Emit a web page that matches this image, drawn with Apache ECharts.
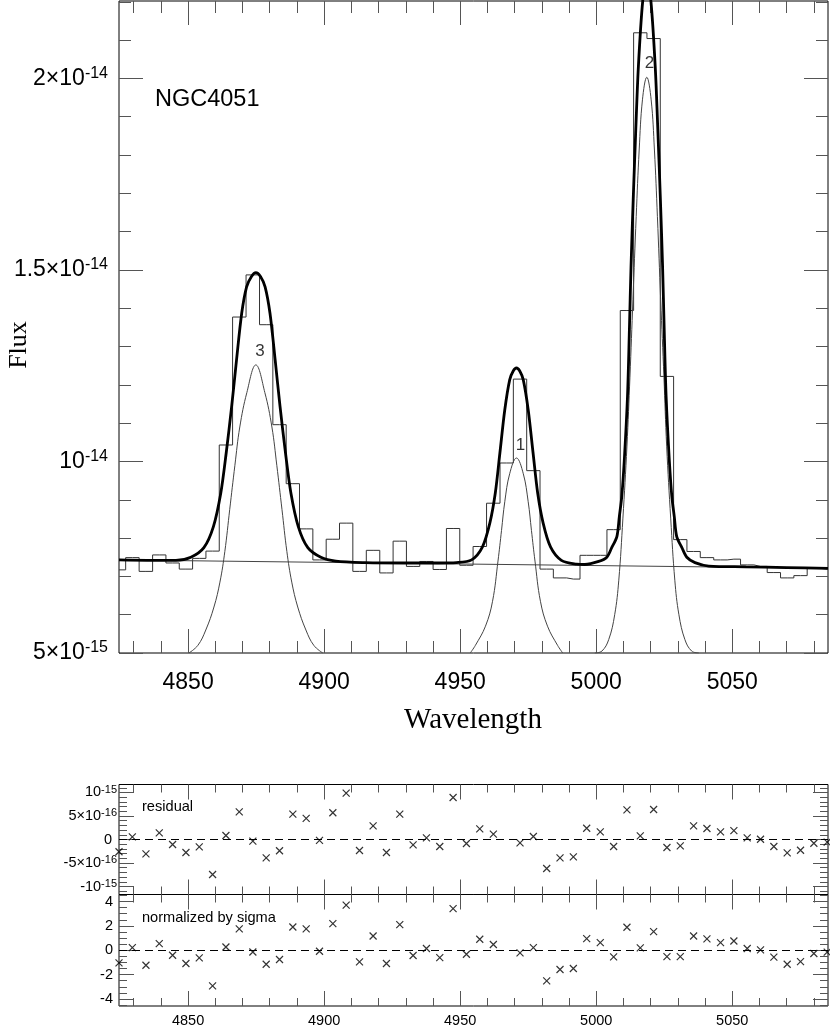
<!DOCTYPE html>
<html>
<head>
<meta charset="utf-8">
<title>NGC4051</title>
<script src="https://cdn.jsdelivr.net/npm/echarts@6/dist/echarts.min.js"></script>
<style>
  html, body { margin: 0; padding: 0; background: #fff; }
  #chart { width: 830px; height: 1029px; }
</style>
</head>
<body>
<div id="chart"></div>
<script>
// bin centres (Angstrom) of the observed spectrum
var wave = [4824.6, 4829.5, 4834.5, 4839.4, 4844.3, 4849.2, 4854.1, 4859.0, 4863.9, 4868.8,
            4873.8, 4878.7, 4883.6, 4888.5, 4893.4, 4898.3, 4903.2, 4908.1, 4913.0, 4918.0,
            4922.9, 4927.8, 4932.7, 4937.6, 4942.5, 4947.4, 4952.3, 4957.2, 4962.2, 4967.1,
            4972.0, 4976.9, 4981.8, 4986.7, 4991.6, 4996.5, 5001.5, 5006.4, 5011.3, 5016.2,
            5021.1, 5026.0, 5030.9, 5035.8, 5040.7, 5045.7, 5050.6, 5055.5, 5060.4, 5065.3,
            5070.2, 5075.1, 5080.0, 5084.9];
// observed flux, units of 1e-15
var flux = [7.17, 7.49, 7.13, 7.56, 7.35, 7.19, 7.47, 7.66, 10.43, 13.77,
            14.87, 13.57, 10.96, 9.42, 8.24, 7.43, 7.97, 8.39, 7.13, 7.68,
            7.09, 7.92, 7.26, 7.39, 7.18, 8.25, 7.29, 7.78, 8.91, 9.96,
            12.15, 9.76, 7.19, 6.96, 6.93, 7.55, 7.55, 8.22, 13.94, 21.19,
            21.04, 12.22, 7.96, 7.65, 7.49, 7.43, 7.45, 7.30, 7.26, 7.10,
            6.96, 7.02, 7.21, 7.19];
// residual, units of 1e-15 (bin 29 falls outside the panel)
var residual = [-0.26, 0.055, -0.306, 0.14, -0.106, -0.277, -0.157, -0.745, 0.085, 0.587,
                -0.036, -0.39, -0.24, 0.54, 0.45, -0.02, 0.57, 0.985, -0.234, 0.29,
                -0.277, 0.54, -0.115, 0.034, -0.149, 0.894, -0.085, 0.226, 0.113, null,
                -0.072, 0.064, -0.617, -0.39, -0.37, 0.24, 0.162, -0.149, 0.63, 0.077,
                0.638, -0.17, -0.136, 0.29, 0.234, 0.162, 0.19, 0.034, 0.006, -0.149,
                -0.285, -0.228, -0.079, -0.057];
var normSigma = [-1.04, 0.22, -1.23, 0.55, -0.41, -1.09, -0.63, -2.93, 0.27, 1.75,
                 -0.14, -1.15, -0.76, 1.91, 1.75, -0.08, 2.19, 3.71, -0.96, 1.17,
                 -1.09, 2.11, -0.43, 0.14, -0.60, 3.42, -0.33, 0.90, 0.47, null,
                 -0.22, 0.22, -2.51, -1.58, -1.50, 0.96, 0.63, -0.55, 1.89, 0.19,
                 1.53, -0.52, -0.52, 1.17, 0.93, 0.63, 0.76, 0.14, 0.03, -0.57,
                 -1.15, -0.93, -0.27, -0.16];

// total fitted model (thick curve)
var modelWave = [4824.6, 4835.0, 4845.5, 4851.0, 4855.8, 4859.3, 4862.0, 4864.0, 4866.0, 4867.8,
                 4869.7, 4871.5, 4873.3, 4874.9, 4876.6, 4878.3, 4880.1, 4882.0, 4883.8, 4885.8,
                 4887.8, 4890.5, 4894.0, 4898.8, 4904.3, 4915.0, 4930.0, 4942.0, 4948.6, 4954.2,
                 4958.2, 4960.9, 4962.9, 4964.6, 4966.4, 4968.2, 4969.5, 4970.7, 4971.9, 4973.2,
                 4975.0, 4976.8, 4978.5, 4980.5, 4983.2, 4987.2, 4992.8, 4995.8, 5000.9, 5003.9,
                 5005.7, 5007.6, 5008.5, 5009.4, 5010.3, 5011.5, 5012.2, 5012.8, 5013.6, 5014.5,
                 5015.5, 5017.1, 5018.6, 5020.1, 5021.7, 5022.7, 5023.6, 5024.4, 5025.0, 5025.7,
                 5026.9, 5027.8, 5028.7, 5029.6, 5031.5, 5033.3, 5036.3, 5041.4, 5055.0, 5070.0,
                 5085.2];
var modelFlux = [7.43, 7.42, 7.42, 7.50, 7.75, 8.30, 9.17, 10.22, 11.43, 12.65,
                 13.87, 14.56, 14.83, 14.93, 14.83, 14.56, 13.87, 12.65, 11.43, 10.22,
                 9.17, 8.30, 7.75, 7.50, 7.40, 7.36, 7.35, 7.35, 7.36, 7.43,
                 7.77, 8.39, 9.17, 10.22, 11.35, 12.13, 12.36, 12.44, 12.36, 12.13,
                 11.35, 10.22, 9.17, 8.39, 7.77, 7.42, 7.32, 7.31, 7.39, 7.50,
                 7.75, 8.04, 8.56, 9.09, 10.0, 11.69, 13.43, 15.09, 16.83, 18.57,
                 20.3, 22.02, 22.6, 22.02, 20.3, 18.57, 16.83, 15.09, 13.43, 11.69,
                 10.0, 9.09, 8.56, 8.04, 7.75, 7.50, 7.36, 7.27, 7.25, 7.23,
                 7.21];

// single components (thin curves) and continuum
var comp3Wave = [4850.3, 4853.6, 4856.5, 4859.5, 4861.7, 4863.5, 4865.3, 4867.2, 4869.0, 4871.6, 4874.9,
                 4878.2, 4880.8, 4882.6, 4884.5, 4886.3, 4888.1, 4890.3, 4893.3, 4896.2, 4899.5];
var comp3Flux = [5.0, 5.2, 5.6, 6.2, 6.85, 7.65, 8.75, 9.9, 10.9, 11.8, 12.52,
                 11.8, 10.9, 9.9, 8.75, 7.65, 6.85, 6.2, 5.6, 5.2, 5.0];
var comp1Wave = [4953.7, 4955.6, 4959.3, 4961.9, 4963.9, 4965.2, 4966.4, 4968.2, 4970.7,
                 4973.2, 4975.0, 4976.2, 4977.5, 4979.5, 4982.1, 4985.8, 4987.7];
var comp1Flux = [5.0, 5.2, 5.7, 6.35, 7.4, 8.2, 8.95, 9.68, 10.09,
                 9.68, 8.95, 8.2, 7.4, 6.35, 5.7, 5.2, 5.0];
var comp2Wave = [4999.5, 5002.1, 5004.6, 5006.8, 5008.3, 5009.8, 5011.3, 5012.4, 5013.5, 5014.7, 5015.8, 5017.0, 5018.6,
                 5020.2, 5021.4, 5022.5, 5023.7, 5024.9, 5025.9, 5027.4, 5028.9, 5030.4, 5032.6, 5035.1, 5037.7];
var comp2Flux = [5.0, 5.05, 5.35, 6.0, 6.9, 8.5, 10.4, 12.2, 14.22, 16.39, 18.13, 19.44, 20.03,
                 19.44, 18.13, 16.39, 14.22, 12.2, 10.4, 8.5, 6.9, 6.0, 5.35, 5.05, 5.0];
var contWave = [4824.6, 5085.2];
var contFlux = [7.43, 7.21];

// component tags
var tagText = ['1', '2', '3'];
var tagWave = [4972.2, 5019.6, 4876.4];
var tagFlux = [10.41, 20.39, 12.87];

// axis ticks and labels
var waveMin = 4824.6, waveMax = 5085.2;
var waveMajor = [4850, 4900, 4950, 5000, 5050];
var waveMinor = [4830, 4840, 4860, 4870, 4880, 4890, 4910, 4920, 4930, 4940, 4960,
                 4970, 4980, 4990, 5010, 5020, 5030, 5040, 5060, 5070, 5080];
var fluxMajor = [5, 10, 15, 20];
var fluxMinor = [6, 7, 8, 9, 11, 12, 13, 14, 16, 17, 18, 19, 21, 22];
var fluxTickText = [['5×10', '-15'], ['10', '-14'], ['1.5×10', '-14'], ['2×10', '-14']];
var resMajor = [-1, -0.5, 0, 0.5, 1];
var resMinor = [-1.1, -0.9, -0.8, -0.7, -0.6, -0.4, -0.3, -0.2, -0.1,
                0.1, 0.2, 0.3, 0.4, 0.6, 0.7, 0.8, 0.9, 1.1];
var resTickText = [['-10', '-15'], ['-5×10', '-16'], ['0', ''], ['5×10', '-16'], ['10', '-15']];
var normMajor = [-4, -2, 0, 2, 4];
var normMinor = [-4.5, -3.5, -3, -2.5, -1.5, -1, -0.5, 0.5, 1, 1.5, 2.5, 3, 3.5, 4.5];

var SANS = '"Liberation Sans", Arial, Helvetica, sans-serif';
var SERIF = '"Liberation Serif", "Times New Roman", serif';
var TICK = '#555';

function pairs(xs, ys) {
  var out = [];
  for (var i = 0; i < xs.length; i++) {
    if (ys[i] !== null) out.push([xs[i], ys[i]]);
  }
  return out;
}

function plain(v) { return String(v); }

function powFormatter(ticks, texts) {
  return function (v) {
    for (var i = 0; i < ticks.length; i++) {
      if (Math.abs(v - ticks[i]) < 1e-9) {
        var t = texts[i];
        return '{b|' + t[0] + '}' + (t[1] ? '{s|' + t[1] + '}' : '{p|}');
      }
    }
    return '';
  };
}

var xAxes = [], yAxes = [];

function axis(g, pos, min, max, ticks, len, label) {
  var a = {
    type: 'value', gridIndex: g, position: pos, min: min, max: max,
    axisLine: { show: false, onZero: false },
    axisTick: { show: true, inside: true, length: len, customValues: ticks,
                lineStyle: { color: TICK, width: 1 } },
    axisLabel: { show: false },
    splitLine: { show: false }
  };
  if (label) {
    a.axisLabel = Object.assign({ show: true, customValues: ticks, color: '#000', fontFamily: SANS, formatter: plain }, label);
  }
  return a;
}

// four framed sides with major+minor ticks, returns first x / y axis index
function panel(g, p) {
  var xi = xAxes.length, yi = yAxes.length;
  xAxes.push(axis(g, 'bottom', waveMin, waveMax, waveMajor, p.major, p.xLabel));
  xAxes.push(axis(g, 'bottom', waveMin, waveMax, waveMinor, p.minor, null));
  xAxes.push(axis(g, 'top', waveMin, waveMax, waveMajor, p.major, null));
  xAxes.push(axis(g, 'top', waveMin, waveMax, waveMinor, p.minor, null));
  yAxes.push(axis(g, 'left', p.yMin, p.yMax, p.yMajor, p.major, p.yLabel));
  yAxes.push(axis(g, 'left', p.yMin, p.yMax, p.yMinor, p.minor, null));
  yAxes.push(axis(g, 'right', p.yMin, p.yMax, p.yMajor, p.major, null));
  yAxes.push(axis(g, 'right', p.yMin, p.yMax, p.yMinor, p.minor, null));
  return [xi, yi];
}

var topIdx = panel(0, {
  yMin: 5, yMax: 22.02, yMajor: fluxMajor, yMinor: fluxMinor, major: 24, minor: 12,
  xLabel: { fontSize: 23, margin: 18 },
  yLabel: {
    margin: 11, formatter: powFormatter(fluxMajor, fluxTickText),
    rich: {
      b: { fontSize: 23, fontFamily: SANS, color: '#000', lineHeight: 26 },
      s: { fontSize: 16, fontFamily: SANS, color: '#000', lineHeight: 17, verticalAlign: 'top' },
      p: { width: 0 }
    }
  }
});
var resIdx = panel(1, {
  yMin: -1.17, yMax: 1.17, yMajor: resMajor, yMinor: resMinor, major: 15, minor: 8,
  xLabel: null,
  yLabel: {
    margin: 2, formatter: powFormatter(resMajor, resTickText),
    rich: {
      b: { fontSize: 14.5, fontFamily: SANS, color: '#000', lineHeight: 17 },
      s: { fontSize: 11, fontFamily: SANS, color: '#000', lineHeight: 11, verticalAlign: 'top' },
      p: { width: 5 }
    }
  }
});
var normIdx = panel(2, {
  yMin: -4.58, yMax: 4.58, yMajor: normMajor, yMinor: normMinor, major: 15, minor: 8,
  xLabel: { fontSize: 14.5, margin: 7 },
  yLabel: { fontSize: 14.5, margin: 6 }
});

var gridStyle = { show: true, borderColor: '#000', borderWidth: 1, backgroundColor: 'transparent',
                  containLabel: false, outerBoundsMode: 'none' };

var crossSymbol = 'path://M0,0L10,10M10,0L0,10';
var zeroLine = {
  silent: true, symbol: ['none', 'none'], label: { show: false },
  lineStyle: { color: '#000', width: 1, type: [8, 5] },
  data: [{ yAxis: 0 }]
};

function thin(xs, ys) {
  return {
    type: 'line', xAxisIndex: topIdx[0], yAxisIndex: topIdx[1], data: pairs(xs, ys),
    symbol: 'none', smooth: 0.4, lineStyle: { color: '#444', width: 1 }, z: 3
  };
}

function crosses(idx, ys) {
  return {
    type: 'scatter', xAxisIndex: idx[0], yAxisIndex: idx[1], data: pairs(wave, ys),
    symbol: crossSymbol, symbolSize: 7,
    itemStyle: { color: 'none', borderColor: '#000', borderWidth: 1.2 },
    markLine: zeroLine
  };
}

var option = {
  animation: false,
  backgroundColor: '#fff',
  grid: [
    Object.assign({ left: 119, top: 1, width: 709, height: 652 }, gridStyle),
    Object.assign({ left: 119, top: 784.5, width: 709, height: 110 }, gridStyle),
    Object.assign({ left: 119, top: 894.5, width: 709, height: 111.5 }, gridStyle)
  ],
  xAxis: xAxes,
  yAxis: yAxes,
  graphic: [
    { type: 'text', x: 19, y: 345, rotation: Math.PI / 2,
      style: { text: 'Flux', font: '26px ' + SERIF, fill: '#000', align: 'center', verticalAlign: 'middle' } },
    { type: 'text', x: 473, y: 720,
      style: { text: 'Wavelength', font: '29px ' + SERIF, fill: '#000', align: 'center', verticalAlign: 'middle' } },
    { type: 'text', x: 155, y: 100,
      style: { text: 'NGC4051', font: '23.5px ' + SANS, fill: '#000', align: 'left', verticalAlign: 'middle' } },
    { type: 'text', x: 142, y: 807,
      style: { text: 'residual', font: '14.6px ' + SANS, fill: '#000', align: 'left', verticalAlign: 'middle' } },
    { type: 'text', x: 142, y: 917.5,
      style: { text: 'normalized by sigma', font: '14.6px ' + SANS, fill: '#000', align: 'left', verticalAlign: 'middle' } }
  ],
  series: [
    {
      type: 'line', xAxisIndex: topIdx[0], yAxisIndex: topIdx[1], data: pairs(wave, flux),
      step: 'middle', symbol: 'none', lineStyle: { color: '#333', width: 1 }, z: 2
    },
    {
      type: 'line', xAxisIndex: topIdx[0], yAxisIndex: topIdx[1], data: pairs(contWave, contFlux),
      symbol: 'none', lineStyle: { color: '#444', width: 1 }, z: 3
    },
    thin(comp1Wave, comp1Flux),
    thin(comp2Wave, comp2Flux),
    thin(comp3Wave, comp3Flux),
    {
      type: 'line', xAxisIndex: topIdx[0], yAxisIndex: topIdx[1], data: pairs(modelWave, modelFlux),
      symbol: 'none', smooth: 0.3, lineStyle: { color: '#000', width: 2.8 }, z: 4
    },
    {
      type: 'scatter', xAxisIndex: topIdx[0], yAxisIndex: topIdx[1], symbolSize: 1,
      itemStyle: { color: 'transparent' }, silent: true, z: 5,
      label: { show: true, position: 'inside', formatter: '{b}', fontSize: 17, fontFamily: SANS, color: '#000' },
      data: tagText.map(function (t, i) { return { name: t, value: [tagWave[i], tagFlux[i]] }; })
    },
    crosses(resIdx, residual),
    crosses(normIdx, normSigma)
  ]
};

var chart = echarts.init(document.getElementById('chart'));
chart.setOption(option);
</script>
</body>
</html>
